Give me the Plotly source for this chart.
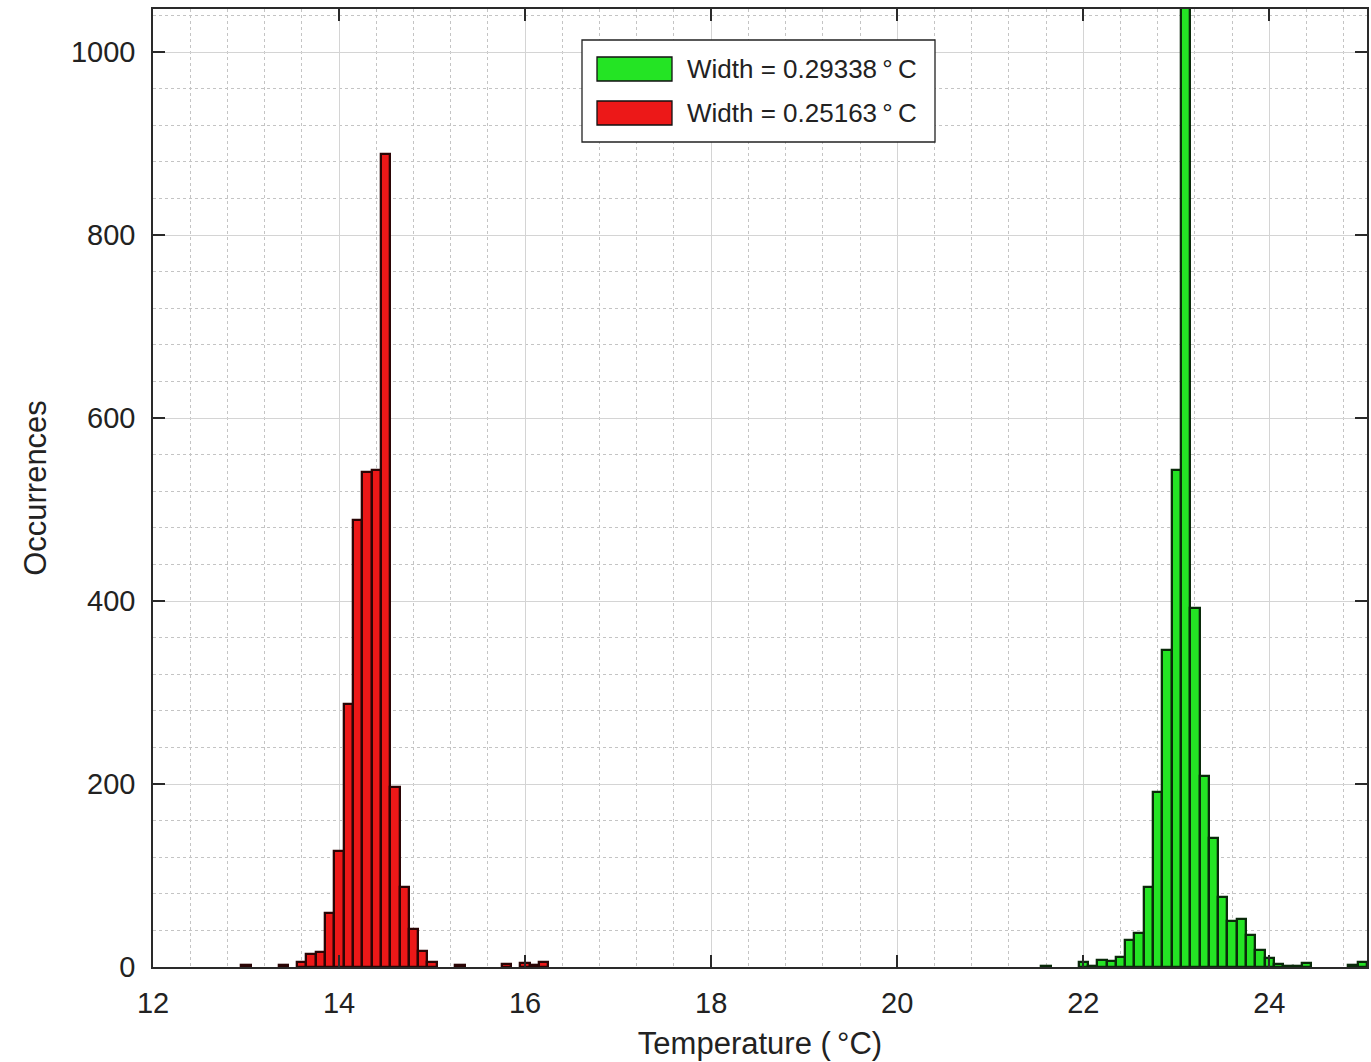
import plotly.graph_objects as go

# Histogram of temperature readings, two sensors (bin width 0.1 °C)
red_centers = [13.0, 13.4, 13.6, 13.7, 13.8, 13.9, 14.0, 14.1, 14.2, 14.3, 14.4,
               14.5, 14.6, 14.7, 14.8, 14.9, 15.0, 15.3, 15.8, 16.0, 16.1, 16.2]
red_counts = [2, 2, 6, 14, 16, 59, 127, 287, 489, 541, 543,
              889, 197, 87, 41, 18, 5, 2, 3, 4, 2, 5]

green_centers = [21.6, 22.0, 22.1, 22.2, 22.3, 22.4, 22.5, 22.6, 22.7, 22.8, 22.9,
                 23.0, 23.1, 23.2, 23.3, 23.4, 23.5, 23.6, 23.7, 23.8, 23.9,
                 24.0, 24.1, 24.2, 24.3, 24.4, 24.9, 25.0]
green_counts = [1, 6, 1, 8, 7, 11, 29, 37, 87, 191, 346,
                543, 1150, 392, 209, 141, 76, 50, 53, 35, 19,
                10, 3, 1, 1, 4, 2, 5]

widths = [0.29338, 0.25163]
series_colors = ["#24e424", "#ec1818"]
edge_colors = ["#0a2a0a", "#2a0505"]

x_ticks = [12, 14, 16, 18, 20, 22, 24]
y_ticks = [0, 200, 400, 600, 800, 1000]

FONT = "Liberation Sans, Arial, sans-serif"

fig = go.Figure()
fig.add_trace(go.Bar(x=green_centers, y=green_counts, width=0.1,
                     name=f"Width = {widths[0]}\u2009°C",
                     marker=dict(color=series_colors[0], line=dict(color=edge_colors[0], width=2.3)),
                     showlegend=False))
fig.add_trace(go.Bar(x=red_centers, y=red_counts, width=0.1,
                     name=f"Width = {widths[1]}\u2009°C",
                     marker=dict(color=series_colors[1], line=dict(color=edge_colors[1], width=2.3)),
                     showlegend=False))

axis_common = dict(
    showline=True, linecolor="#2a2a2a", linewidth=1.6, mirror="allticks",
    ticks="inside", ticklen=12, tickwidth=1.6, tickcolor="#2a2a2a",
    showgrid=True, gridcolor="#d4d4d4", gridwidth=1,
    zeroline=False,
    tickfont=dict(family=FONT, size=29, color="#222"),
)

fig.update_xaxes(
    **axis_common,
    range=[12, 25.05], tickvals=x_ticks,
    minor=dict(dtick=0.4, tick0=12, showgrid=True, gridcolor="#c4c4c4",
               griddash="dot", gridwidth=1, ticks=""),
    title=dict(text="Temperature (\u2009°C)", font=dict(family=FONT, size=31, color="#222")),
    ticklabelstandoff=9,
)
fig.update_yaxes(
    **axis_common,
    range=[0, 1047], tickvals=y_ticks,
    minor=dict(dtick=40, tick0=0, showgrid=True, gridcolor="#c4c4c4",
               griddash="dot", gridwidth=1, ticks=""),
    title=dict(text="Occurrences", font=dict(family=FONT, size=31, color="#222")),
    ticklabelstandoff=10,
)

# Legend box with large colour swatches
W, H = 1371, 1062
L, R, T, B = 153, 4, 9, 95
pw, ph = W - L - R, H - T - B


def px(x):
    return (x - L) / pw


def py(y):
    return (H - B - y) / ph


shapes = [
    dict(type="rect", xref="paper", yref="paper", x0=px(582), x1=px(935), y0=py(142), y1=py(40),
         line=dict(color="#222", width=1.3), fillcolor="white", layer="above"),
]
annotations = []
for i, (wv, col) in enumerate(zip(widths, series_colors)):
    yc = 69 + 44 * i
    shapes.append(dict(type="rect", xref="paper", yref="paper",
                       x0=px(597), x1=px(672), y0=py(yc + 12), y1=py(yc - 12),
                       line=dict(color="#111", width=1.3), fillcolor=col, layer="above"))
    annotations.append(dict(xref="paper", yref="paper", x=px(685), y=py(yc),
                            xanchor="left", yanchor="middle", showarrow=False,
                            text=f"Width = {wv}\u2009°\u2009C",
                            font=dict(family=FONT, size=26, color="#222")))

fig.update_layout(
    width=W, height=H,
    margin=dict(l=L, r=R, t=T, b=B, autoexpand=False),
    paper_bgcolor="white", plot_bgcolor="white",
    barmode="overlay", bargap=0,
    shapes=shapes, annotations=annotations,
)

fig.write_html("out.html")
